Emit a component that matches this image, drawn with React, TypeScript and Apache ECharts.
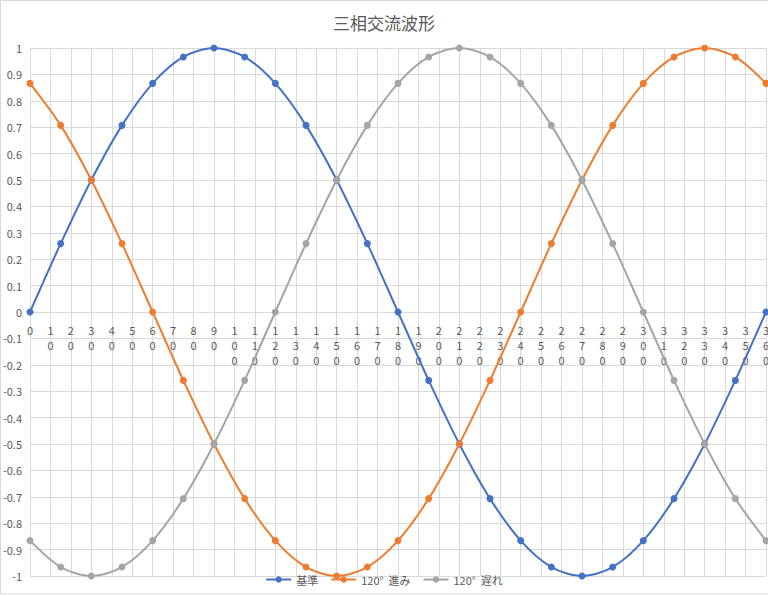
import { useEffect, useRef } from "react";
import * as echarts from "echarts";

const title = "三相交流波形";
const seriesNames = ["基準", "120°  進み", "120°  遅れ"];
const colors = ["#4472C4", "#ED7D31", "#A5A5A5"];

const angles = [
  0, 15, 30, 45, 60, 75, 90, 105, 120, 135, 150, 165, 180, 195, 210, 225, 240,
  255, 270, 285, 300, 315, 330, 345, 360,
];

const base = [
  0, 0.259, 0.5, 0.707, 0.866, 0.966, 1, 0.966, 0.866, 0.707, 0.5, 0.259, 0,
  -0.259, -0.5, -0.707, -0.866, -0.966, -1, -0.966, -0.866, -0.707, -0.5,
  -0.259, 0,
];

const lead120 = [
  0.866, 0.707, 0.5, 0.259, 0, -0.259, -0.5, -0.707, -0.866, -0.966, -1,
  -0.966, -0.866, -0.707, -0.5, -0.259, 0, 0.259, 0.5, 0.707, 0.866, 0.966, 1,
  0.966, 0.866,
];

const lag120 = [
  -0.866, -0.966, -1, -0.966, -0.866, -0.707, -0.5, -0.259, 0, 0.259, 0.5,
  0.707, 0.866, 0.966, 1, 0.966, 0.866, 0.707, 0.5, 0.259, 0, -0.259, -0.5,
  -0.707, -0.866,
];

const allValues = [base, lead120, lag120];

const font = "'Noto Sans CJK JP', 'Noto Sans', sans-serif";
const textColor = "#595959";
const gridColor = "#d9d9d9";

const W = 768;
const H = 597;
const gridTop = 48;
const gridBottom = 21;

export default function App() {
  const ref = useRef<HTMLDivElement>(null);

  useEffect(() => {
    if (!ref.current) return;
    const chart = echarts.init(ref.current, null, { renderer: "svg" });

    // x axis sits on y = 0, half way up the plot
    const zeroOffset = -(H - gridTop - gridBottom) / 2;

    chart.setOption({
      animation: false,
      backgroundColor: "#fff",
      textStyle: { fontFamily: font },
      title: {
        text: title,
        left: "center",
        top: 9,
        textStyle: {
          color: textColor,
          fontSize: 17,
          fontWeight: "normal",
          fontFamily: font,
        },
      },
      graphic: [
        {
          type: "rect",
          shape: { x: 0.5, y: 0.5, width: 800, height: 593.5 },
          style: { fill: "none", stroke: gridColor, lineWidth: 1 },
          silent: true,
          z: 100,
        },
      ],
      legend: {
        data: seriesNames,
        left: "center",
        top: 569,
        itemWidth: 25,
        itemHeight: 8,
        itemGap: 12,
        textStyle: { color: textColor, fontSize: 11, fontFamily: font },
      },
      grid: {
        left: 30,
        right: 2,
        top: gridTop,
        bottom: gridBottom,
        containLabel: false,
        outerBoundsMode: "none",
      },
      xAxis: {
        type: "value",
        min: 0,
        max: 360,
        interval: 10,
        position: "bottom",
        offset: zeroOffset,
        axisLine: { onZero: false, lineStyle: { color: gridColor, width: 1 } },
        axisTick: { show: false },
        splitLine: { show: true, lineStyle: { color: gridColor, width: 1 } },
        axisLabel: {
          color: textColor,
          fontSize: 11,
          lineHeight: 15,
          margin: 10,
          verticalAlign: "top",
          hideOverlap: false,
          showMaxLabel: true,
          showMinLabel: true,
          formatter: (v: number) => String(v).split("").join("\n"),
        },
      },
      yAxis: {
        type: "value",
        min: -1,
        max: 1,
        interval: 0.1,
        axisLine: { show: false, onZero: false },
        axisTick: { show: false },
        splitLine: { show: true, lineStyle: { color: gridColor, width: 1 } },
        axisLabel: {
          color: textColor,
          fontSize: 11,
          margin: 8,
          formatter: (v: number) => String(Math.round(v * 10) / 10),
        },
      },
      series: allValues.map((vals, i) => ({
        name: seriesNames[i],
        type: "line",
        smooth: 0.3,
        data: angles.map((a, j) => [a, vals[j]]),
        symbol: "circle",
        symbolSize: 7,
        lineStyle: { color: colors[i], width: 2 },
        itemStyle: { color: colors[i] },
      })),
    });

    return () => chart.dispose();
  }, []);

  return (
    <div
      ref={ref}
      style={{ position: "fixed", left: 0, top: 0, width: W, height: H }}
    />
  );
}
